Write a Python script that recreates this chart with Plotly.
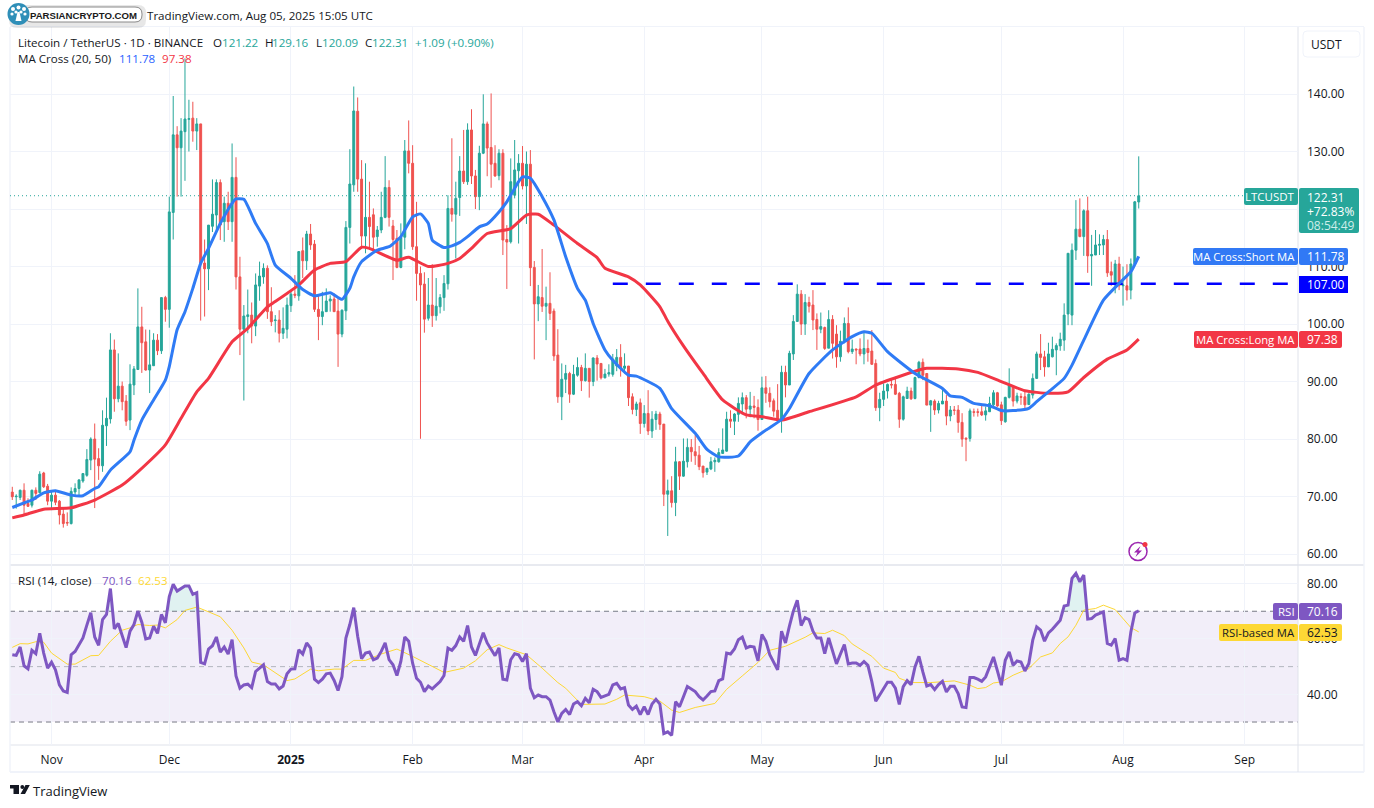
import plotly.graph_objects as go
import pandas as pd

W, H = 1374, 808
UP, DOWN = "#26a69a", "#ef5350"
BLUE, RED, PURPLE, YELLOW = "#2f7bf5", "#f23645", "#7e57c2", "#fdd835"
FONT = "Open Sans"

dates = pd.date_range("2024-10-22", "2025-08-05", freq="D").strftime("%Y-%m-%d").tolist()

opens = [
 70.78,69.97,69.85,71.1,68.8,68.5,71.1,70.7,74.1,71.8,
 69.2,70.25,69.2,66.95,65.5,65.3,70.8,71.4,72.7,73.7,76.35,80,76.6,75.35,82.3,83.5,95.5,87,89.2,86.6,83.3,89.4,92.1,99.5,96.9,92,92.75,97.2,95.35,104.6,
 102.55,119.4,132.9,130.65,133.45,135.6,135.8,133.55,134.8,110.6,109.6,117,118.95,124.6,117.8,121,117.8,125.5,108.2,99.1,101.3,101.55,99.65,106.6,108.2,109.7,102.15,100.6,100.7,98.4,99.1,
 103.2,105.2,104.9,112.75,111,115.65,113.9,102.55,101.3,102.15,104,104.35,102.25,98.25,102.3,116.8,124.2,137,125.2,115.3,118.55,119,115.2,116.35,118.55,123.75,117.05,114.9,109.85,115.1,130.1,
 127.95,113.45,108.8,106.95,101,103.3,101.45,103,104.6,107,120.1,119.1,122,126.6,124.75,133.75,125.75,122.15,129.7,134.8,130.7,127.95,125.8,129.7,114.7,114.3,122.4,126.65,
 127.95,124,127.8,109.85,103.5,104.6,103.1,103.6,102.25,94.6,87.35,90.4,91.4,87.8,91.1,92.45,90.15,92.3,90,94.1,93.15,90.65,91.3,91.25,92.7,94.2,92.3,92.7,87.35,85.15,86.3,
 82.7,84.45,81.4,83.4,84.35,82.6,70.4,71,68.95,76.05,73.55,76.05,78.55,77.8,77.2,75.3,74.25,74.8,76.05,76.05,77.5,77.9,83.45,83.1,84.3,86.1,87.2,85.2,85.75,85.5,
 83.4,88.9,87.95,86.65,85,83.3,91.6,89.4,94.8,100.45,105.2,100,103.75,103.3,100.8,99.1,99.4,95.8,100.8,98.25,94.3,97,100.1,95.2,95.65,95.65,94.8,95.75,95.3,93.15,85.45,
 86.9,88.35,89.5,89.5,87.95,83.45,87.05,88.35,87.05,90.7,93.35,91.4,85.9,86.6,85.05,86.1,86.6,84,85.05,85.05,82.9,80.15,80.1,84.75,84.75,84.75,84.2,84.75,85.95,88.05,
 85.95,83,87.25,89.2,86.6,87.4,87.35,86,87.65,90.55,94.8,94.3,92.55,94.3,95.5,96.2,97.2,101.75,101.55,112.85,116.5,115.2,119.7,111.85,112,113.7,113.75,114.7,109.1,106.8,110.45,
 106.65,106.65,105.9,110.45,121.22,
]
highs = [
 71.7,70.4,71.2,72.3,69.7,71.2,71.6,74.4,74.3,72.2,
 71.1,71.1,69.4,68,67.25,71.6,72.3,73,74.1,78.25,80.3,82.7,78.4,85,87.2,98.4,97.3,94.9,90,87.65,93,92.7,106.2,103,99.05,99,98.4,98.25,104.6,104.9,
 122.15,139.65,134.4,135.8,146.2,139,138.65,135.8,134.8,114.7,117.2,125.15,125.15,125.15,122.15,123,131.4,129,111.7,103.3,106,103.75,108.8,110.85,110.55,110.2,106.4,101.55,102.4,102.9,104.6,
 105.9,108.5,112.6,115.05,116.2,117.4,114.6,105,105.6,106.2,105,105.3,104.5,102.55,117.9,130.4,141.3,139.4,128.5,127.95,124.75,120.1,117.05,123,129.2,125,118.1,116.35,117.5,132,135.4,
 131.1,121.25,110,109,108,110.4,108,105.2,108.5,122.4,132.3,124.75,129.2,133.75,134.9,137.35,126.8,131,139.95,135.2,140.1,131.1,130.4,130.4,117.2,128.8,132,129.55,
 130.95,130,130.25,110.95,106.8,113.05,106.5,109,102.7,99.1,93.15,92.9,91.7,92.9,94.2,92.9,94.9,92.3,94.2,94.6,93.15,92.2,93,94.8,95.65,96.5,94.9,92.7,87.95,86.5,87.05,
 85.9,88.5,84.85,84.9,84.75,82.6,72.95,73.55,78.65,76.15,80.1,80.1,80,80.7,78.8,75.3,75,76.9,76.8,78.4,81.85,84.75,85,84.5,87.25,88.1,87.65,88.2,87.5,86.9,
 90.85,90.95,89,87.05,89.55,92.75,92.75,95.35,101.55,106.9,105.9,105.2,104.75,105.9,101.85,102,99.55,102.4,101.55,99.8,98.85,101.15,102.9,97.3,95.75,97.5,98.5,97.3,98.95,93.85,88.05,
 89.7,89.65,90.55,90.85,88.2,87.55,89.1,88.95,90.85,93.6,94,91.4,86.8,86.9,86.65,88.8,87.65,85.75,85.75,85.9,84.5,80.3,85.3,85.3,85.3,85.9,85.65,87.35,88.5,88.2,
 86.5,87.35,92.3,89.4,88.05,87.95,88.5,87.95,91.4,95.2,98.25,95.35,96.75,97.8,96.65,98.5,103.6,112.3,114,121.55,121.85,119.95,122.15,115.5,116.35,115.6,115.5,116.35,110.85,111.15,111.7,
 110,110.4,111.4,121.4,129.16,
]
lows = [
 69.4,67.9,69.4,66.8,68.2,68.1,69.4,70.55,71.5,68.5,
 67.65,68.5,65.15,64.6,64.9,65.15,70,70,72.4,73.45,74.6,68,72.9,74.3,78.8,82.7,84.75,86.4,85,82.3,81.55,87.65,92,91.5,91.9,88,92.7,94.6,94.8,100.4,
 99.36,114.7,122.15,122.15,124.9,130,131.7,130.25,100.6,101.3,105.9,116,116,114.6,114.3,116.35,114.3,106,94.6,86.7,98.4,96.65,97.9,104.05,107,100.9,99.65,98.55,96.8,97.4,97.5,
 102.1,104.5,104.05,108,109.4,112.9,102.1,97.2,99.8,102.15,102.15,102.15,92.55,97.7,100.7,114,123,123,113.45,112.3,112.9,112.3,113.45,115.8,118.4,116.95,107.65,109.7,109.7,113,126.2,
 112.9,104.05,80.05,98.5,100.6,99.5,100.6,101.85,102.3,106,117.8,111.4,118.8,124.35,124.2,124.35,120,119.8,129.55,125.7,123.7,125.6,125,112,106.1,114,121.85,114,
 123.4,117.4,106.6,93.85,100.5,102.1,97.2,100.7,93.6,86.3,83.3,88,86.3,87.65,90.85,88.35,90,87.2,89.2,90.15,90.35,90.55,90.85,90.85,91.8,90.85,91.4,85.75,84.3,84,80.9,
 82,80.7,80.2,81.6,81.6,68.35,63.15,68.1,66.6,71.15,73.45,75.05,76.05,75.5,74.6,73.3,73.75,74.6,74.3,75.9,77.5,77.8,81.95,80.7,83,84.3,83.6,83.8,83.6,81.45,
 83.4,86.3,85.5,83.9,83.2,81.1,87.25,89.4,93.75,100.45,98.1,98.1,102,98.95,95.5,98.4,95.5,95.8,94,92.4,93.45,96.65,94.9,94.8,93,94.4,93,93.45,92.9,84.9,83.1,
 85.75,87.05,88.8,87.65,81.95,83.2,87.05,86.8,86.9,90.55,90.25,85.9,81.25,84.2,84.45,86.1,82.4,83.1,84.2,81.1,78.65,76.15,79.55,83.9,83.9,84,83.2,84.75,85.75,85.6,
 82.45,82.85,87.05,85.65,86.2,85.95,85.35,85.95,87.05,90.85,92,90.85,92.55,94.2,91.1,95.35,95.35,99.8,99.8,111.15,115.1,111.85,108.9,106.65,112,112,112,108.2,106.65,105.35,105.9,
 103.2,104.1,104.3,110.2,120.09,
]
closes = [
 69.97,70.05,71.1,68.5,68.3,71.1,70.55,73.9,71.7,69.2,
 70.25,69,66.8,65.3,65.4,70.9,71.4,72.9,74,76.45,80,76.5,75.35,82.4,83.6,95.5,87,89.2,86.5,83.1,89.55,92.2,99.5,96.75,92,92.9,97.2,95.35,104.6,102.55,
 119.5,132.9,130.65,133.55,135.65,135.7,133.55,134.8,110.6,109.6,117.2,119.1,124.6,117.2,121,117.8,125.5,108.2,99.1,101.4,101.6,99.65,106.8,108.35,109.7,102.15,100.4,100.7,98.4,99.25,103.3,
 105.2,105,112.6,111,115.65,113.75,102.55,101.3,102.15,104,104.35,102.15,98.25,102.4,116.8,124.35,137.05,125.2,115.3,118.55,116.95,115.1,116.35,118.55,123.75,118.55,114.7,109.85,115.1,130.1,127.95,
 113.45,108.8,106.8,100.85,103.3,101.45,103.1,104.6,107.05,120.1,119.1,121.85,126.6,124.75,133.75,125.75,122.15,129.7,134.8,130.6,127.8,125.75,129.7,114.6,114.25,124.75,126.8,127.95,
 124,127.8,109.8,103.5,104.75,103.1,103.6,101.85,94.45,87.35,90.4,91.4,87.8,91.25,92.45,90.15,92.3,90,94.1,93.05,90.65,91.3,91.55,93.9,94.2,92.3,92.7,87.2,85.15,86.1,82.7,
 84.45,81.4,83.45,84.35,82.55,70.4,71,68.95,76.05,73.55,76.15,78.55,77.8,77.1,75.2,74.15,74.9,76.05,76.3,77.65,78.1,83.45,83.1,84.35,86.2,87.2,85.2,85.75,85.5,83.4,
 88.9,87.95,86.5,84.85,83.3,91.6,89.4,94.9,100.45,105.2,100,103.75,103.1,100.7,99.1,99.55,95.75,100.8,96.65,94.3,97,100.1,95.2,95.65,95.5,94.8,95.75,95.05,93,85.45,86.9,
 88.35,89.5,89.4,87.8,83.45,87.35,88.35,87,90.7,93.35,91.1,85.9,86.65,85.05,86.2,86.6,84,85.05,85,82.9,80,80,84.9,84.65,84.65,84.2,84.9,86.2,88.05,85.75,
 83.2,87.25,89.4,86.6,87.5,87.25,85.95,87.8,90.55,94.8,94.2,92.55,94.8,95.6,96.25,97.35,101.55,112.3,112.85,116.5,115.2,119.7,111.85,112.1,113.75,113.85,114.7,108.9,108.5,110.45,106.65,
 106.8,105.9,110.45,121.25,122.31,
]

short_ma_dates = ["2024-10-22","2024-10-25","2024-10-27","2024-10-30","2024-11-02","2024-11-06","2024-11-09","2024-11-12","2024-11-13","2024-11-16","2024-11-21","2024-11-22","2024-11-24","2024-11-27","2024-11-30","2024-12-01","2024-12-03","2024-12-05","2024-12-07","2024-12-09","2024-12-11","2024-12-14","2024-12-17","2024-12-18","2024-12-20","2024-12-23","2024-12-26","2024-12-28","2025-01-01","2025-01-04","2025-01-07","2025-01-11","2025-01-14","2025-01-16","2025-01-17","2025-01-19","2025-01-23","2025-01-26","2025-01-29","2025-02-01","2025-02-03","2025-02-05","2025-02-06","2025-02-09","2025-02-11","2025-02-13","2025-02-15","2025-02-18","2025-02-20","2025-02-23","2025-02-25","2025-02-28","2025-03-01","2025-03-03","2025-03-06","2025-03-09","2025-03-12","2025-03-15","2025-03-17","2025-03-19","2025-03-22","2025-03-24","2025-03-28","2025-03-30","2025-04-05","2025-04-08","2025-04-14","2025-04-17","2025-04-20","2025-04-25","2025-04-28","2025-05-02","2025-05-06","2025-05-08","2025-05-13","2025-05-19","2025-05-24","2025-05-27","2025-05-29","2025-06-02","2025-06-09","2025-06-16","2025-06-18","2025-06-21","2025-06-24","2025-06-28","2025-07-01","2025-07-04","2025-07-08","2025-07-10","2025-07-13","2025-07-17","2025-07-19","2025-07-22","2025-07-27","2025-07-31","2025-08-03","2025-08-05"]
short_ma = [68.1,68.9,69.4,70.65,71,70.25,70.15,71.4,71.7,74.6,77.8,79.8,83.3,86.8,90.25,92.6,99,102.15,106.2,110.55,113.15,117.5,121,121.75,121.7,117.5,114,110.25,107.95,106,104.9,105.45,104.3,106.2,108.2,110.85,112.85,113.45,115.2,118.65,119.15,117.5,114.6,113.3,113.6,114.2,115.2,116.9,117.4,119.5,121.25,124.75,125.6,125.35,122.15,118.1,111.7,106.2,104.15,100.1,95.5,93.7,91.1,90.95,88.8,85.3,81,78.2,76.9,77.05,79.5,81.55,83.4,85.3,91.4,95.5,97.8,98.65,98.4,95.2,91.4,88.8,87.5,87.25,86.2,85.8,84.95,84.95,85.35,86.5,88.2,90.55,92.85,97.2,104.15,107.05,109.1,111.78]

long_ma_dates = ["2024-10-22","2024-10-25","2024-10-30","2024-11-06","2024-11-12","2024-11-19","2024-11-23","2024-11-30","2024-12-04","2024-12-08","2024-12-11","2024-12-17","2024-12-21","2024-12-26","2024-12-28","2025-01-03","2025-01-07","2025-01-11","2025-01-15","2025-01-19","2025-01-21","2025-01-28","2025-01-31","2025-02-05","2025-02-10","2025-02-13","2025-02-16","2025-02-20","2025-02-26","2025-03-02","2025-03-05","2025-03-09","2025-03-15","2025-03-20","2025-03-22","2025-03-28","2025-03-31","2025-04-05","2025-04-07","2025-04-11","2025-04-16","2025-04-21","2025-04-27","2025-05-01","2025-05-06","2025-05-13","2025-05-25","2025-05-30","2025-06-10","2025-06-12","2025-06-20","2025-06-25","2025-07-01","2025-07-07","2025-07-13","2025-07-18","2025-07-22","2025-07-28","2025-08-02","2025-08-05"]
long_ma = [66.3,66.8,67.8,68.05,69.4,72,74.3,79,83.6,88.2,90.55,96.9,99.25,103,103.9,106.8,109.4,110.55,110.85,113.35,113.15,111.1,111.6,110,110.55,111.4,113.15,115.75,116.6,118.95,119.1,117.2,114,111.55,109.7,108.2,106.8,103,100.5,96.2,91.4,86.8,84.2,83.9,83.3,84.75,87.35,89.4,92,92.3,92.2,91.6,90,88.4,87.95,88.2,90.7,93.9,95.5,97.38]

rsi = [
 54.3,54.05,57.1,50.3,49.2,55.9,54.7,62,54.9,49.45,
 51.6,48.85,43.4,41.2,40.7,54.3,55.5,57.9,60.35,65,69.45,60.7,57.7,67,68.85,78.2,63.6,65.6,61.2,56.85,62.8,65.2,70.05,66.05,60,60.35,64.6,62,68.85,65.8,
 75.3,79.75,77.3,78.2,79.15,79.15,76.1,76.7,51.5,51,56.35,57.55,60.7,55.25,57.1,54.55,59.75,46.65,42.2,43.4,43.65,42.4,48.25,49.45,50.65,44.6,43.75,43.75,41.95,43,47.4,
 49.1,49.2,56.1,54.55,58.55,56.7,45.45,44.25,45.45,47.4,47.65,45,41.35,46.4,60.35,65.2,71.3,61,52.85,54.9,55.25,52.5,53.1,55.5,58.55,52.5,50.65,46.8,51.85,60.7,59.15,
 51.25,45.8,44.35,41,43,41.95,43.15,44.6,46.8,56.7,55.9,57.6,60.7,59.15,64.85,57.1,54.05,58.55,62.2,58.55,56.1,53.95,56.75,45.45,45.2,52.5,54.65,54.3,
 51.85,54.65,42.2,38.8,39.75,39.15,39.15,37.95,33.7,30.05,33.1,34.55,32.7,36.5,37.35,35.9,38.55,36.95,41.8,41,38.9,39.5,40,43.4,44,41.95,42.4,36.1,34.55,35.75,32.7,
 35.5,32.7,36.5,38.2,36.5,25.8,26.45,25.2,37.35,35.5,39.15,42.8,41.95,41,39.15,37.95,39.4,41,41.2,44.95,45.55,54.9,54.55,56.35,59.75,60.7,56.75,57.35,57.1,52.1,
 61.6,59.15,54.3,51.5,48.85,62.8,58.55,64.6,70.05,73.95,64.85,67.65,67,62.8,60.35,60.35,54.65,60.35,55.5,51,54.55,57.95,51,51.3,51.3,50.45,51.85,50.45,44.6,37.55,39.75,
 42.2,44.35,44.35,42.2,36.35,42.8,44.95,43.5,49.9,53.75,48.1,43,43.5,41.7,43.5,44.7,40.85,42.9,42.9,40.25,35.45,35.2,46.05,46.05,45.45,44.7,46.3,49.9,53.5,48.45,
 43.3,52.3,55.3,50.5,52.05,51.7,48.45,51.1,59.55,64.35,63.15,59.2,62.2,63.5,64.95,66.75,71.85,72.2,81.85,83.65,80.65,83.05,67.15,67.35,68.6,69.2,69.8,58.35,57.75,60.15,52.3,
 52.9,52.3,62.55,69.4,70.16,
]

rsi_ma_index = [0,2,4,6,8,10,14,16,20,22,25,28,30,32,35,37,39,42,44,47,50,53,56,59,61,64,70,72,76,78,82,84,87,90,94,98,102,107,110,115,118,121,124,126,131,135,139,141,145,151,154,156,161,165,168,170,174,179,182,186,190,193,197,202,204,207,209,212,214,219,222,225,226,229,234,240,244,246,248,250,252,255,259,262,265,267,269,271,273,276,278,281,283,285,287]
rsi_ma = [56.95,58.3,58.2,59,58.8,54.9,50.9,50.9,53.95,54.05,59.15,63.15,64,65.2,64.85,65,64,67,70.3,71.5,69.8,68,63.15,56.75,51.65,50.65,44.95,45.55,49.1,48.5,49.1,49.1,52.25,52.25,54.55,56.35,53.7,50.05,47.9,49.45,52.1,56.1,57.95,56.75,54.3,49.45,44.25,42.2,36.35,36.5,38.2,39.75,39.15,37.55,34.3,33.45,35.25,36.7,41.8,46.65,51.5,55.9,57.35,60.6,62.2,61.95,63.15,61.2,58.2,53.7,49.45,47.9,45.8,44.25,44.25,44.85,43.3,42.05,42.45,44.1,44.5,46.9,49.3,53.5,54.95,58.35,60.75,64.95,70.4,71,72.2,70.6,67.4,64.1,62.53]

price_ticks = [60,70,80,90,100,110,120,130,140]
rsi_ticks = [40,60,80]
month_ticks = ["2024-11-01","2024-12-01","2025-01-01","2025-02-01","2025-03-01","2025-04-01","2025-05-01","2025-06-01","2025-07-01","2025-08-01","2025-09-01"]
month_labels = ["Nov","Dec","<b>2025</b>","Feb","Mar","Apr","May","Jun","Jul","Aug","Sep"]
support_level = 107.0
support_dates = ["2025-03-24","2025-09-12"]
last_price = 122.31

assert all(len(a) == len(dates) for a in (opens, highs, lows, closes, rsi))
assert len(rsi_ma_index) == len(rsi_ma) and len(short_ma) == len(short_ma_dates) and len(long_ma) == len(long_ma_dates)

fx = lambda p: p / W
fy = lambda p: 1 - p / H
X_RANGE = ["2024-10-21 10:00", "2025-09-14 14:00"]
GRID = "#f0f3fa"
LINE = "#e0e3eb"

fig = go.Figure()
fig.add_trace(go.Candlestick(x=dates, open=opens, high=highs, low=lows, close=closes, xaxis="x", yaxis="y",
    increasing=dict(line=dict(color=UP, width=1), fillcolor=UP),
    decreasing=dict(line=dict(color=DOWN, width=1), fillcolor=DOWN),
    whiskerwidth=0, showlegend=False, hoverinfo="skip"))
fig.add_trace(go.Scatter(x=X_RANGE, y=[last_price, last_price], mode="lines", xaxis="x", yaxis="y",
    line=dict(color=UP, width=1, dash="1px,3px"), showlegend=False, hoverinfo="skip"))
fig.add_trace(go.Scatter(x=support_dates, y=[support_level, support_level], mode="lines", xaxis="x", yaxis="y",
    line=dict(color="#0000ff", width=2.5, dash="15px,18px"), showlegend=False, hoverinfo="skip"))
fig.add_trace(go.Scatter(x=long_ma_dates, y=long_ma, mode="lines", xaxis="x", yaxis="y",
    line=dict(color=RED, width=3, shape="spline", smoothing=0.5), showlegend=False, hoverinfo="skip"))
fig.add_trace(go.Scatter(x=short_ma_dates, y=short_ma, mode="lines", xaxis="x", yaxis="y",
    line=dict(color=BLUE, width=3, shape="spline", smoothing=0.5), showlegend=False, hoverinfo="skip"))

# RSI pane
fig.add_trace(go.Scatter(x=dates, y=[70] * len(dates), mode="lines", xaxis="x2", yaxis="y2",
    line=dict(width=0), showlegend=False, hoverinfo="skip"))
fig.add_trace(go.Scatter(x=dates, y=[max(v, 70) for v in rsi], mode="lines", xaxis="x2", yaxis="y2",
    line=dict(width=0), fill="tonexty", fillcolor="rgba(38,166,154,0.14)", showlegend=False, hoverinfo="skip"))
fig.add_trace(go.Scatter(x=[dates[i] for i in rsi_ma_index], y=rsi_ma, mode="lines", xaxis="x2", yaxis="y2",
    line=dict(color=YELLOW, width=1), showlegend=False, hoverinfo="skip"))
fig.add_trace(go.Scatter(x=dates, y=rsi, mode="lines", xaxis="x2", yaxis="y2",
    line=dict(color=PURPLE, width=3), showlegend=False, hoverinfo="skip"))

shapes = []
def rect(x0, y0, x1, y1, fill, line="rgba(0,0,0,0)", layer="above", w=0):
    shapes.append(dict(type="rect", xref="paper", yref="paper", x0=fx(x0), x1=fx(x1), y0=fy(y0), y1=fy(y1),
                       fillcolor=fill, line=dict(color=line, width=w), layer=layer))
def hline(x0, x1, y, color=LINE, w=1, layer="below"):
    shapes.append(dict(type="line", xref="paper", yref="paper", x0=fx(x0), x1=fx(x1), y0=fy(y), y1=fy(y),
                       line=dict(color=color, width=w), layer=layer))
def vline(x, y0, y1, color=LINE, w=1, layer="below"):
    shapes.append(dict(type="line", xref="paper", yref="paper", x0=fx(x), x1=fx(x), y0=fy(y0), y1=fy(y1),
                       line=dict(color=color, width=w), layer=layer))
def path(points, fill, line="rgba(0,0,0,0)", w=0, closed=True):
    d = "M " + " L ".join(f"{fx(a):.5f},{fy(b):.5f}" for a, b in points) + (" Z" if closed else "")
    shapes.append(dict(type="path", xref="paper", yref="paper", path=d, fillcolor=fill, line=dict(color=line, width=w), layer="above"))
def circle(cx, cy, r, fill, line="rgba(0,0,0,0)", w=0):
    shapes.append(dict(type="circle", xref="paper", yref="paper", x0=fx(cx - r), x1=fx(cx + r), y0=fy(cy + r), y1=fy(cy - r),
                       fillcolor=fill, line=dict(color=line, width=w), layer="above"))
def rrect(x0, y0, x1, y1, r, fill, line="rgba(0,0,0,0)", w=0):
    d = (f"M {fx(x0 + r)},{fy(y0)} L {fx(x1 - r)},{fy(y0)} Q {fx(x1)},{fy(y0)} {fx(x1)},{fy(y0 + r)} "
         f"L {fx(x1)},{fy(y1 - r)} Q {fx(x1)},{fy(y1)} {fx(x1 - r)},{fy(y1)} L {fx(x0 + r)},{fy(y1)} "
         f"Q {fx(x0)},{fy(y1)} {fx(x0)},{fy(y1 - r)} L {fx(x0)},{fy(y0 + r)} Q {fx(x0)},{fy(y0)} {fx(x0 + r)},{fy(y0)} Z")
    shapes.append(dict(type="path", xref="paper", yref="paper", path=d, fillcolor=fill, line=dict(color=line, width=w), layer="above"))

# RSI band and levels
shapes.append(dict(type="rect", xref="x2 domain", yref="y2", x0=0, x1=1, y0=30, y1=70,
                   fillcolor="rgba(126,87,194,0.1)", line=dict(width=0), layer="below"))
for lvl, col in ((70, "#787b86"), (50, "#b2b5be"), (30, "#787b86")):
    shapes.append(dict(type="line", xref="x2 domain", yref="y2", x0=0, x1=1, y0=lvl, y1=lvl,
                       line=dict(color=col, width=1, dash="5px,4px"), layer="below"))

# frame
hline(10, 1364, 26.5, GRID)
hline(10, 1364, 565, LINE, 1.5)
hline(10, 1364, 745, LINE, 1)
hline(10, 1364, 772, GRID, 2)
vline(1298, 27, 772, LINE, 1)
vline(1364, 27, 772, GRID, 1.5)
vline(10, 27, 772, GRID, 1.5)
rrect(1303, 31, 1360, 57, 4, "#ffffff", GRID, 1)

annotations = []
def text(px, py, s, size=12, color="#131722", anchor="left", family=FONT):
    nudge = -2 if anchor == "left" else 2
    annotations.append(dict(xref="paper", yref="paper", x=fx(px + nudge), y=fy(py), xanchor=anchor, yanchor="middle",
                            text=s, showarrow=False, font=dict(family=family, size=size, color=color)))

# header legends
text(18, 42, "Litecoin / TetherUS · 1D · BINANCE", 11.6)
for px, s in ((213, "O"), (264.5, "H"), (316, "L"), (365, "C")):
    text(px, 42, s, 11.6)
for px, s in ((222, "121.22"), (272, "129.16"), (322, "120.09"), (372, "122.31"), (415, "+1.09 (+0.90%)")):
    text(px, 42, s, 11.6, UP)
text(18, 59, "MA Cross (20, 50)", 11.6)
text(119, 59, "111.78", 11.6, "#2962ff")
text(162, 59, "97.38", 11.6, RED)
text(18, 580, "RSI (14, close)", 11.6)
text(102, 580, "70.16", 11.6, PURPLE)
text(138, 580, "62.53", 11.6, YELLOW)
text(1311, 44, "USDT", 12)

# price scale tags
rrect(1244, 188, 1298, 205, 2, UP)
rrect(1299, 188, 1359, 233, 2, UP)
text(1295, 196.5, "LTCUSDT", 11.5, "#ffffff", "right")
text(1307, 197, "122.31", 12, "#ffffff")
text(1307, 211, "+72.83%", 12, "#ffffff")
text(1307, 225, "08:54:49", 12, "#cfeeea")
rrect(1193, 248, 1298, 265, 2, "#3179f5")
rrect(1299, 248, 1348, 265, 2, "#3179f5")
text(1295, 256.5, "MA Cross:Short MA", 11.3, "#ffffff", "right")
text(1307, 256.5, "111.78", 12, "#ffffff")
rect(1299, 276, 1348, 293, "#0000ff")
text(1307, 284.5, "107.00", 12, "#ffffff")
rrect(1194, 331, 1298, 348, 2, RED)
rrect(1299, 331, 1342, 348, 2, RED)
text(1295, 339.5, "MA Cross:Long MA", 11.3, "#ffffff", "right")
text(1307, 339.5, "97.38", 12, "#ffffff")
rrect(1273, 603, 1298, 620, 2, PURPLE)
rrect(1299, 603, 1342, 620, 2, PURPLE)
text(1295, 611.5, "RSI", 11.5, "#ffffff", "right")
text(1307, 611.5, "70.16", 12, "#ffffff")
rrect(1219, 624, 1298, 641, 2, YELLOW)
rrect(1299, 624, 1342, 641, 2, YELLOW)
text(1295, 632.5, "RSI-based MA", 11.3, "#131722", "right")
text(1307, 632.5, "62.53", 12, "#131722")

# flash icon
circle(1138, 551.5, 9, "rgba(0,0,0,0)", "#9c27b0", 1.5)
path([(1140.5, 546), (1134, 552.5), (1137.5, 552.5), (1135.5, 557), (1142, 550.5), (1138.5, 550.5)], "#9c27b0")
circle(1145, 544.5, 2.5, "#f23645")

# top-left badge
rrect(9, 5, 146, 28, 8, "rgba(120,120,120,0.18)")
rrect(25, 7, 142, 22, 7, "#ffffff", "#8a8a8a", 1)
circle(18.5, 14, 11, "#2f8fb8")
path([(17.5, 12), (19.5, 12), (21.5, 21), (15.5, 21)], "#ffffff")
for cx, cy, r in ((13, 9, 2), (18.5, 7.5, 2), (24, 9, 2), (12, 14, 1.6), (25, 14, 1.6), (16, 12, 1.6), (21, 12, 1.6)):
    circle(cx, cy, r, "#ffffff")
text(30, 15, "<b>PARSIANCRYPTO.COM</b>", 9.6, "#1a1a1a", family="Liberation Sans")
text(147, 15, "TradingView.com, Aug 05, 2025 15:05 UTC", 11.6, "#131722")

# TradingView footer
path([(10, 785), (19, 785), (19, 794), (13.5, 794), (13.5, 788.5), (10, 788.5)], "#131722")
circle(22.3, 787, 1.9, "#131722")
path([(25.5, 785), (29.8, 785), (25, 794), (20.5, 794)], "#131722")
text(33, 790.5, "TradingView", 13, "#131722")

axis_common = dict(showline=False, zeroline=False, ticks="", showgrid=True, gridcolor=GRID, gridwidth=1)
fig.update_layout(
    width=W, height=H, autosize=False, margin=dict(l=0, r=0, t=0, b=0),
    paper_bgcolor="#ffffff", plot_bgcolor="#ffffff", showlegend=False,
    font=dict(family=FONT, size=12, color="#131722"), hovermode=False,
    xaxis=dict(axis_common, domain=[fx(10), fx(1298)], range=X_RANGE, type="date", anchor="y",
               tickvals=month_ticks, ticktext=[""] * len(month_ticks), rangeslider=dict(visible=False)),
    yaxis=dict(axis_common, domain=[fy(565), fy(27)], range=[58.1, 151.65], anchor="x", side="right",
               tickvals=price_ticks, ticktext=[f"{v:.2f}" for v in price_ticks], ticklabelstandoff=8,
               tickfont=dict(size=12, color="#131722")),
    xaxis2=dict(axis_common, domain=[fx(10), fx(1298)], range=X_RANGE, type="date", anchor="y2",
                tickvals=month_ticks, ticktext=month_labels, ticklabelstandoff=6,
                tickfont=dict(size=12, color="#131722")),
    yaxis2=dict(axis_common, domain=[fy(745), fy(565)], range=[21.7, 86.7], anchor="x2", side="right",
                tickvals=rsi_ticks, ticktext=[f"{v:.2f}" for v in rsi_ticks], ticklabelstandoff=8,
                tickfont=dict(size=12, color="#131722")),
    shapes=shapes, annotations=annotations,
)
fig.write_html("out.html", config=dict(displayModeBar=False),
               post_script="document.body.style.margin='0';document.body.style.overflow='hidden';")
